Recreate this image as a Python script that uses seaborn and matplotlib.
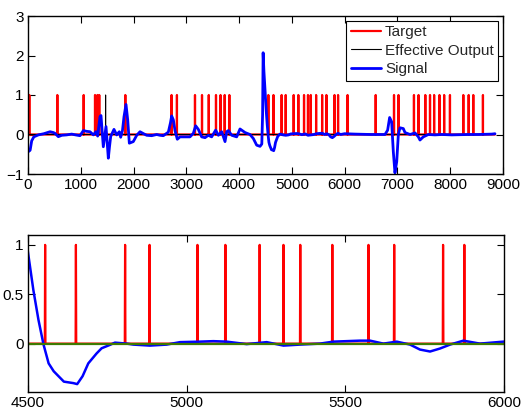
import numpy as np
import pandas as pd
import matplotlib
matplotlib.use("Agg")
import matplotlib.pyplot as plt
import seaborn as sns

# ---- data ----
target_spikes = [25, 556, 1055, 1270, 1315, 1350, 1844, 2720, 2822, 3164, 3297, 3425,
                 3562, 3648, 3727, 3815, 4554, 4651, 4806, 4883, 5034, 5122, 5230,
                 5305, 5358, 5459, 5573, 5654, 5808, 5875, 6055, 6588, 6935, 7020,
                 7313, 7400, 7528, 7617, 7695, 7796, 7885, 7995, 8248, 8350, 8437, 8620]
output_spikes = [1470]
t_end = 8848

signal_x = [0, 40, 70, 110, 196, 300, 417, 480, 511, 575, 640, 733, 828, 900, 985,
            1049, 1110, 1175, 1238, 1288, 1320, 1364, 1383, 1405, 1427, 1459, 1478,
            1500, 1522, 1545, 1567, 1629, 1680, 1730, 1756, 1790, 1819, 1857, 1889,
            1920, 1995, 2060, 2122, 2190, 2249, 2343, 2438, 2500, 2564, 2659, 2700,
            2722, 2754, 2785, 2829, 2880, 2975, 3069, 3133, 3177, 3227, 3291, 3354,
            3417, 3480, 3556, 3607, 3670, 3733, 3765, 3796, 3860, 3954, 4017, 4112,
            4206, 4269, 4333, 4396, 4430, 4445, 4455, 4470, 4500, 4517, 4533, 4549,
            4565, 4581, 4613, 4643, 4655, 4672, 4690, 4716, 4732, 4758, 4774, 4811,
            4832, 4884, 4937, 4979, 5042, 5084, 5126, 5189, 5252, 5305, 5357, 5420,
            5462, 5546, 5578, 5620, 5662, 5704, 5735, 5767, 5798, 5830, 5872, 5924,
            5998, 6200, 6500, 6764, 6814, 6852, 6890, 6922, 6953, 6986, 7017, 7048,
            7111, 7143, 7238, 7333, 7396, 7427, 7490, 7585, 7711, 7838, 8028, 8343,
            8532, 8785, 8848]
signal_y = [-0.44, -0.40, -0.16, -0.06, -0.01, 0.02, 0.07, 0.05, 0.03, -0.055, -0.02,
            -0.01, 0.01, -0.01, -0.03, 0.10, 0.08, 0.07, -0.01, 0.07, -0.04, 0.45,
            0.48, 0.10, -0.31, 0.01, 0.20, -0.20, -0.60, -0.30, -0.05, 0.13, -0.01,
            0.07, -0.07, 0.10, 0.45, 0.76, 0.37, -0.22, -0.18, -0.02, 0.07, 0.02,
            -0.02, -0.03, 0.0, -0.02, -0.03, 0.06, 0.30, 0.47, 0.37, 0.10, -0.12,
            -0.06, -0.06, -0.06, 0.03, 0.22, 0.13, -0.06, -0.08, -0.02, -0.06, 0.11,
            -0.02, 0.07, -0.18, 0.07, 0.10, -0.02, -0.06, 0.14, 0.05, 0.0, -0.10,
            -0.27, -0.30, -0.24, 0.50, 2.07, 1.60, 0.92, 0.54, 0.24, -0.01, -0.20,
            -0.28, -0.385, -0.40, -0.41, -0.33, -0.20, -0.10, -0.047, -0.013, 0.01,
            0.0, -0.01, -0.02, -0.01, 0.015, 0.02, 0.025, 0.02, -0.005, 0.015, -0.02,
            -0.01, 0.0, 0.02, 0.03, 0.03, 0.0, 0.02, -0.01, -0.06, -0.08, -0.05,
            -0.01, 0.03, 0.0, 0.02, 0.01, 0.0, 0.0, 0.11, 0.43, 0.32, -0.44, -0.97,
            -0.69, 0.0, 0.17, 0.15, 0.05, 0.0, 0.04, -0.06, -0.14, -0.06, 0.0, -0.01,
            0.0, -0.01, 0.0, 0.0, 0.01, 0.02]

top_xticks = [0, 1000, 2000, 3000, 4000, 5000, 6000, 7000, 8000, 9000]
top_yticks = [-1, 0, 1, 2, 3]
bot_xticks = [4500, 5000, 5500, 6000]
bot_yticks = [0, 0.5, 1]
bot_yticklabels = ["0", "0.5", "1"]


def spike_train(spikes, end):
    xs, ys = [0], [0]
    for t in spikes:
        xs += [t - 1, t, t + 1]
        ys += [0, 1, 0]
    xs.append(end)
    ys.append(0)
    return pd.DataFrame({"t": xs, "v": ys})


target_df = spike_train(target_spikes, t_end)
output_df = spike_train(output_spikes, t_end)
signal_df = pd.DataFrame({"t": signal_x, "v": signal_y})

sns.set_style("white")
plt.rcParams["font.family"] = ["Liberation Sans", "DejaVu Sans"]
plt.rcParams["font.size"] = 11

fig = plt.figure(figsize=(5.21, 4.12), dpi=100)
ax1 = fig.add_axes([28 / 521, 1 - 174 / 412, 475 / 521, 158 / 412])
ax2 = fig.add_axes([28 / 521, 1 - 392 / 412, 476 / 521, 157 / 412])

# top panel
sns.lineplot(data=target_df, x="t", y="v", ax=ax1, color="#ff0000", lw=1.6,
             estimator=None, sort=False, label="Target")
sns.lineplot(data=output_df, x="t", y="v", ax=ax1, color="black", lw=0.8,
             estimator=None, sort=False, label="Effective Output")
sns.lineplot(data=signal_df, x="t", y="v", ax=ax1, color="#0000ff", lw=2.0,
             estimator=None, sort=False, label="Signal")
ax1.set_xlim(0, 9000)
ax1.set_ylim(-1, 3)
ax1.set_xticks(top_xticks)
ax1.set_yticks(top_yticks)

# bottom panel
sns.lineplot(data=target_df, x="t", y="v", ax=ax2, color="#ff0000", lw=1.6,
             estimator=None, sort=False, legend=False)
sns.lineplot(data=signal_df, x="t", y="v", ax=ax2, color="#0000ff", lw=1.8,
             estimator=None, sort=False, legend=False)
sns.lineplot(data=output_df, x="t", y="v", ax=ax2, color="#3f7a00", lw=1.6,
             estimator=None, sort=False, legend=False)
ax2.set_xlim(4500, 6000)
ax2.set_ylim(-0.49, 1.1)
ax2.set_xticks(bot_xticks)
ax2.set_yticks(bot_yticks)
ax2.set_yticklabels(bot_yticklabels)

for ax in (ax1, ax2):
    ax.set_xlabel("")
    ax.set_ylabel("")
    for s in ax.spines.values():
        s.set_visible(True)
        s.set_color("black")
        s.set_linewidth(1.0)
    ax.tick_params(direction="in", length=5, width=0.8, top=True, right=True,
                   bottom=True, left=True, labelsize=11, colors="black", pad=3)
    ax.set_facecolor("white")

leg = ax1.legend(loc="upper right", frameon=True, fancybox=False, framealpha=1,
                 edgecolor="black", fontsize=11, handlelength=2.0, borderpad=0.3,
                 labelspacing=0.3, handletextpad=0.25, borderaxespad=0.3)
leg.get_frame().set_linewidth(0.8)

fig.savefig("out.png", dpi=100, facecolor="white")
